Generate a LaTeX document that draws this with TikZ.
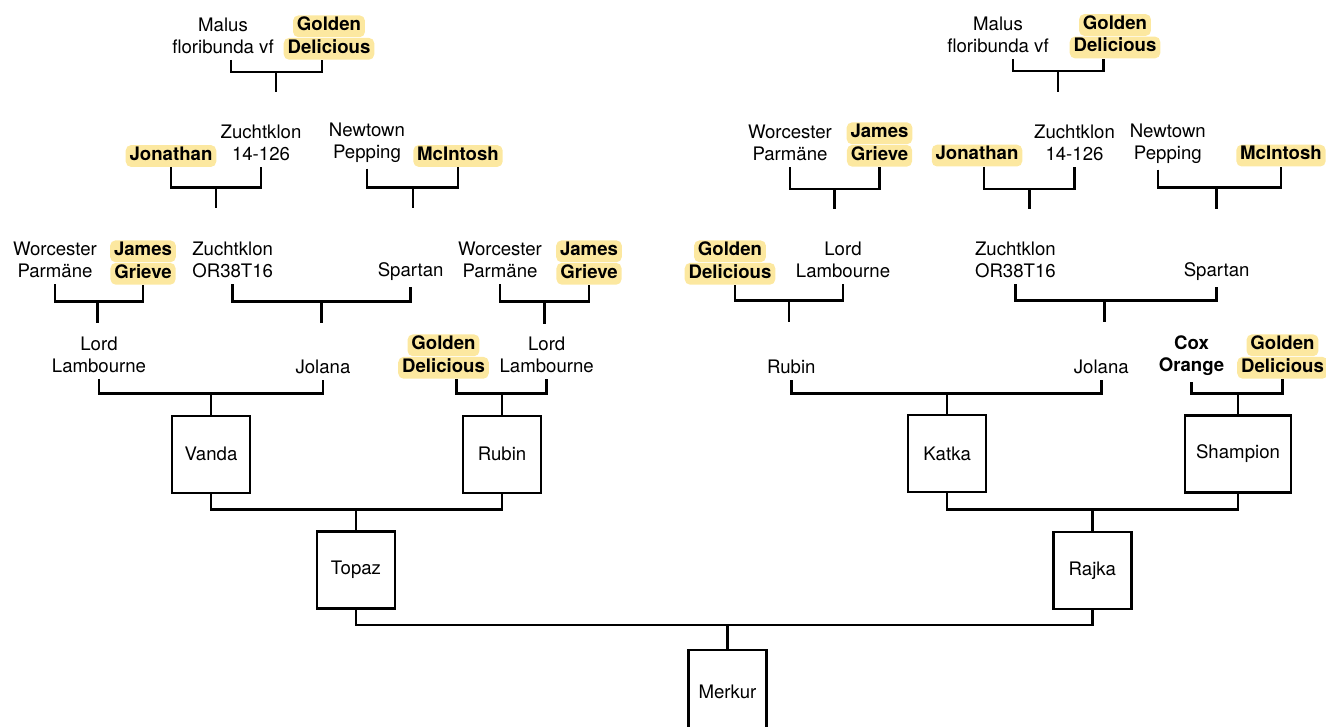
\documentclass[tikz,border=0pt]{standalone}
\usepackage{fontspec}
\setmainfont{TeX Gyre Heros}
\usetikzlibrary{positioning}
\definecolor{hlyellow}{RGB}{252,232,160}

\begin{document}
\begin{tikzpicture}[
        x=0.02cm, y=-0.02cm,
        font=\fontsize{10.6pt}{12.4pt}\selectfont,
        lbl/.style={align=center, inner xsep=0pt, inner ysep=3.5pt},
        hl/.style={fill=hlyellow, rounded corners=3pt, inner xsep=2.2pt, inner ysep=0pt, text height=8.7pt, text depth=3.7pt, font=\fontsize{10.6pt}{12.4pt}\selectfont\bfseries},
        box/.style={draw, line width=1.4pt, minimum width=1.56cm, minimum height=1.54cm, inner sep=0pt},
        link/.style={line width=1.4pt}
    ]
    \useasboundingbox (0,0) rectangle (1326,727);

    % left half
    \node[lbl] (malusL) at (223,35.5) {Malus\\floribunda vf};
    \node[hl] (gdA1) at (329,26.3) {Golden};
    \node[hl, below=0pt of gdA1] (gdA2) {Delicious};

    \node[hl] (jonA) at (171,156) {Jonathan};
    \node[lbl] (zkA) at (261,142.5) {Zuchtklon\\14-126};
    \node[lbl] (newA) at (367,142.5) {Newtown\\Pepping};
    \node[hl] (mciA) at (458,156) {McIntosh};

    \node[lbl] (worA) at (55,260) {Worcester\\Parmäne};
    \node[hl] (jgA1) at (143,251.3) {James};
    \node[hl, below=0pt of jgA1] (jgA2) {Grieve};
    \node[lbl] (orA) at (232.7,260) {Zuchtklon\\OR38T16};
    \node[lbl] (spaA) at (410.7,271.5) {Spartan};
    \node[lbl] (worB) at (500,260) {Worcester\\Parmäne};
    \node[hl] (jgB1) at (589,251.3) {James};
    \node[hl, below=0pt of jgB1] (jgB2) {Grieve};

    \node[lbl] (lordA) at (99,354.5) {Lord\\Lambourne};
    \node[lbl] (jolA) at (323,367) {Jolana};
    \node[hl] (gdB1) at (443.5,345.3) {Golden};
    \node[hl, below=0pt of gdB1] (gdB2) {Delicious};
    \node[lbl] (lordB) at (546.7,354.5) {Lord\\Lambourne};

    \node[box] (vanda) at (211,454.3) {Vanda};
    \node[box] (rubin) at (502,454.3) {Rubin};
    \node[box] (topaz) at (356,570) {Topaz};

    % right half
    \node[lbl] (malusR) at (998,34.5) {Malus\\floribunda vf};
    \node[hl] (gdC1) at (1115,25) {Golden};
    \node[hl, below=0pt of gdC1] (gdC2) {Delicious};

    \node[lbl] (worC) at (790,143) {Worcester\\Parmäne};
    \node[hl] (jgC1) at (879.5,133.3) {James};
    \node[hl, below=0pt of jgC1] (jgC2) {Grieve};
    \node[hl] (jonB) at (977,155.6) {Jonathan};
    \node[lbl] (zkB) at (1074.5,143) {Zuchtklon\\14-126};
    \node[lbl] (newB) at (1167.8,143.5) {Newtown\\Pepping};
    \node[hl] (mciB) at (1281,155.6) {McIntosh};

    \node[hl] (gdD1) at (730,251.3) {Golden};
    \node[hl, below=0pt of gdD1] (gdD2) {Delicious};
    \node[lbl] (lordC) at (843,260) {Lord\\Lambourne};
    \node[lbl] (orB) at (1015.4,260) {Zuchtklon\\OR38T16};
    \node[lbl] (spaB) at (1216.7,271.5) {Spartan};

    \node[lbl] (rubinT) at (791.3,367) {Rubin};
    \node[lbl] (jolB) at (1101.3,367) {Jolana};
    \node[lbl, font=\fontsize{10.6pt}{12.4pt}\selectfont\bfseries] (cox) at (1191.5,356) {Cox\\Orange};
    \node[hl] (gdE1) at (1282.5,345.3) {Golden};
    \node[hl, below=0pt of gdE1] (gdE2) {Delicious};

    \node[box] (katka) at (947.2,453.5) {Katka};
    \node[box, minimum width=2.12cm] (shampion) at (1238,453.8) {Shampion};
    \node[box] (rajka) at (1092.4,570.5) {Rajka};

    \node[box, minimum height=1.68cm] (merkur) at (727.5,692) {Merkur};

    % junctions and free ends
    \coordinate (jA1) at (276,72);      \coordinate (eA1) at (276,92);
    \coordinate (jA2) at (216,187.7);   \coordinate (eA2) at (216,208);
    \coordinate (jA3) at (413,187.7);   \coordinate (eA3) at (413,208);
    \coordinate (jA4) at (97.7,301.7);  \coordinate (eA4) at (97.7,322.7);
    \coordinate (jA5) at (321.5,301.7); \coordinate (eA5) at (321.5,322.7);
    \coordinate (jA6) at (544.5,301.7); \coordinate (eA6) at (544.5,324);
    \coordinate (jA7) at (211,393.3);
    \coordinate (jA8) at (502,393.3);
    \coordinate (jA9) at (356,509.3);

    \coordinate (jC1) at (1058.2,71);   \coordinate (eC1) at (1058.2,92.3);
    \coordinate (jC2) at (834.5,189);   \coordinate (eC2) at (834.5,209.3);
    \coordinate (jC3) at (1029.4,189);  \coordinate (eC3) at (1029.4,209.3);
    \coordinate (jC4) at (1216.5,187.7);\coordinate (eC4) at (1216.5,209.3);
    \coordinate (jC5) at (789.2,300.7); \coordinate (eC5) at (789.2,322);
    \coordinate (jC6) at (1104.4,300.7);\coordinate (eC6) at (1104.4,322);
    \coordinate (jC7) at (947.2,393.3);
    \coordinate (jC8) at (1238,393.3);
    \coordinate (jC9) at (1092.4,509.3);

    \coordinate (jM) at (727.5,625);

    \draw[link] ([xshift=0.16cm]malusL.south) |- (jA1) -| ([xshift=-0.14cm]gdA2.south) (jA1) -- (eA1);
    \draw[link] (jonA.south) |- (jA2) -| (zkA.south) (jA2) -- (eA2);
    \draw[link] (newA.south) |- (jA3) -| (mciA.south) (jA3) -- (eA3);
    \draw[link] (worA.south) |- (jA4) -| (jgA2.south) (jA4) -- (eA4);
    \draw[link] (orA.south) |- (jA5) -| (spaA.south) (jA5) -- (eA5);
    \draw[link] (worB.south) |- (jA6) -| (jgB2.south) (jA6) -- (eA6);
    \draw[link] (lordA.south) |- (jA7) -| (jolA.south) (jA7) -- (vanda.north);
    \draw[link] ([xshift=0.26cm]gdB2.south) |- (jA8) -| (lordB.south) (jA8) -- (rubin.north);
    \draw[link] (vanda.south) |- (jA9) -| (rubin.south) (jA9) -- (topaz.north);

    \draw[link] ([xshift=0.3cm]malusR.south) |- (jC1) -| ([xshift=-0.23cm]gdC2.south) (jC1) -- (eC1);
    \draw[link] (worC.south) |- (jC2) -| (jgC2.south) (jC2) -- (eC2);
    \draw[link] ([xshift=0.14cm]jonB.south) |- (jC3) -| (zkB.south) (jC3) -- (eC3);
    \draw[link] ([xshift=-0.2cm]newB.south) |- (jC4) -| (mciB.south) (jC4) -- (eC4);
    \draw[link] ([xshift=0.1cm]gdD2.south) |- (jC5) -| (lordC.south) (jC5) -- (eC5);
    \draw[link] (orB.south) |- (jC6) -| (spaB.south) (jC6) -- (eC6);
    \draw[link] (rubinT.south) |- (jC7) -| (jolB.south) (jC7) -- (katka.north);
    \draw[link] (cox.south) |- (jC8) -| (gdE2.south) (jC8) -- (shampion.north);
    \draw[link] (katka.south) |- (jC9) -| (shampion.south) (jC9) -- (rajka.north);

    \draw[link] (topaz.south) |- (jM) -| (rajka.south) (jM) -- (merkur.north);
\end{tikzpicture}
\end{document}
